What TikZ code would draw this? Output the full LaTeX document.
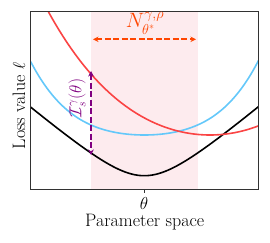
\documentclass[tikz,border=0pt]{standalone}
\usepackage{amsmath}
\usetikzlibrary{arrows.meta}
\definecolor{pinkfill}{RGB}{253,235,238}
\definecolor{curvered}{RGB}{250,68,68}
\definecolor{curveblue}{RGB}{100,200,250}
\definecolor{framegray}{RGB}{50,50,50}
\definecolor{arrpurple}{RGB}{128,0,128}
\definecolor{arrorange}{RGB}{255,69,0}
\begin{document}
\begin{tikzpicture}[x=1pt,y=-1pt,
  curve/.style={line width=1.6pt},
  dasharrow/.style={line width=2pt,dash pattern=on 6pt off 2.5pt,{Stealth[length=5.5pt,width=5.5pt]}-{Stealth[length=5.5pt,width=5.5pt]}},
  lbl/.style={font=\fontsize{18}{22}\selectfont,inner sep=0pt}]
\useasboundingbox (0,0) rectangle (270,243);
% shaded neighbourhood
\fill[pinkfill] (91,11.3) rectangle (198,189.3);
% curves
\begin{scope}
\clip (30.7,11.3) rectangle (258.5,189.3);
\draw[curve,black] plot[domain=30.7:258.5,samples=120,smooth] (\x,{175.7-34.1*(sqrt(1+((\x-144.3)/40)^2)-1)});
\draw[curve,curveblue] plot[domain=30.7:258.5,samples=120,smooth] (\x,{135-29.1*((\x-144.3)/100)^2-21.48*((\x-144.3)/100)^4});
\draw[curve,curvered] plot[domain=40:258.5,samples=120,smooth] (\x,{135-38.19*((\x-210)/100)^2-3.45*((\x-210)/100)^4});
\end{scope}
% frame
\draw[framegray,line width=0.9pt] (30.7,11.3) rectangle (258.5,189.3);
\coordinate (tk) at (144.3,189.3);
\draw[framegray,line width=0.8pt] (tk) -- ++(0,3.5);
% arrows
\coordinate (pa) at (91,71);
\coordinate (pb) at (91,155);
\draw[dasharrow,arrpurple] (pa) -- (pb);
\coordinate (oa) at (93,39.3);
\coordinate (ob) at (196,39.3);
\draw[dasharrow,arrorange] (oa) -- (ob);
% labels
\node[lbl,text=arrpurple,rotate=90,font=\fontsize{17}{20}\selectfont] (ilab) at (77,98) {$\mathcal{I}_s^{\gamma}(\theta)$};
\node[lbl,text=arrorange,font=\fontsize{20}{24}\selectfont] (nlab) at (145,23) {$N_{\theta^*}^{\gamma,\rho}$};
\node[lbl] (th) at (144,203) {$\theta$};
\node[lbl] (xl) at (144.7,222) {Parameter space};
\node[lbl,rotate=90] (yl) at (19,106) {Loss value $\ell$};
\end{tikzpicture}
\end{document}
